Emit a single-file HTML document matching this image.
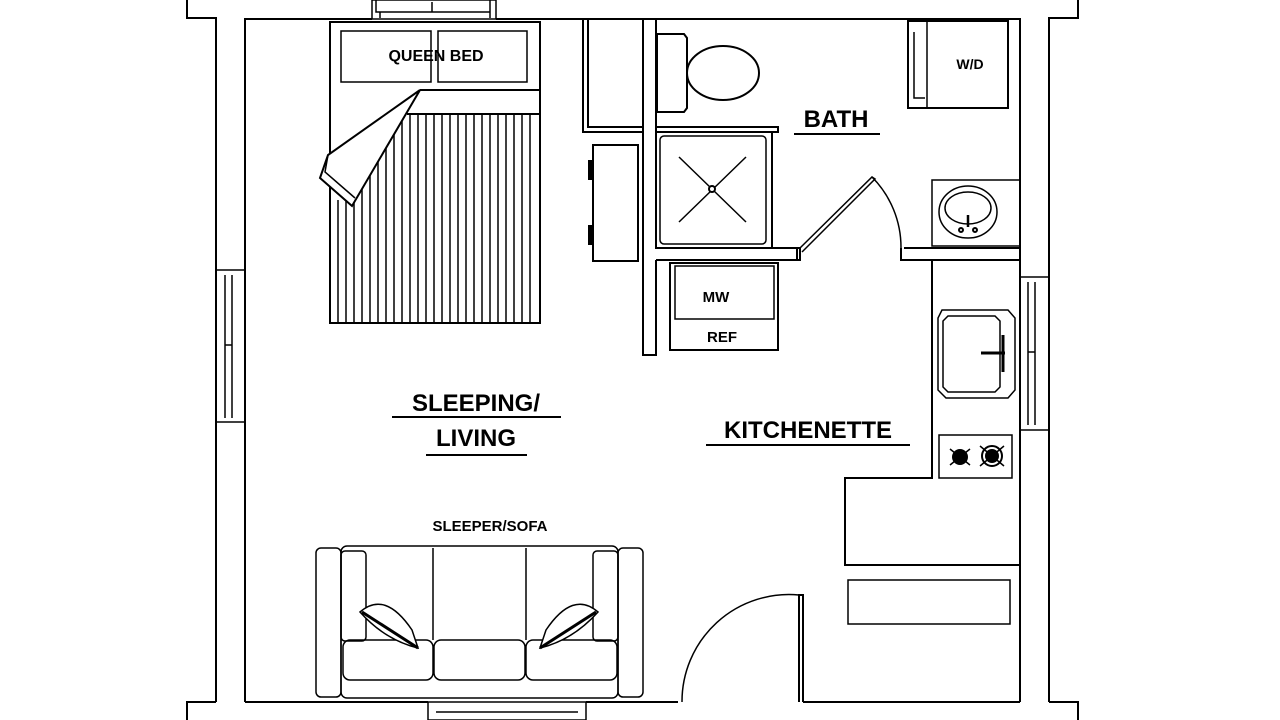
<!DOCTYPE html>
<html><head><meta charset="utf-8"><style>
html,body{margin:0;padding:0;background:#fff;}
svg{display:block}
text{font-family:"Liberation Sans",sans-serif;font-weight:bold;fill:#000}
</style></head><body>
<svg width="1280" height="720" viewBox="0 0 1280 720" xmlns="http://www.w3.org/2000/svg" fill="none" stroke="#000" stroke-width="2">
<!-- outer walls -->
<path d="M187 0V18H216V702"/>
<path d="M245 702V19H372M496 19H1020V702"/>
<path d="M1078 0V18H1049V702"/>
<!-- top window -->
<rect x="372" y="0" width="124" height="19" stroke-width="1.5"/>
<path d="M376 0V12H490V0M380 12v6M432 12v-10M490 12v6" stroke-width="1.5"/>
<!-- left window -->
<rect x="216" y="270" width="29" height="152" stroke-width="1.5"/>
<path d="M225 275V418M232 275V418M225 345h7" stroke-width="1.5"/>
<!-- right window -->
<rect x="1020" y="277" width="29" height="153" stroke-width="1.5"/>
<path d="M1028 282V425M1035 282V425M1028 352h7" stroke-width="1.5"/>
<!-- bottom walls -->
<path d="M187 720V702H216M245 702H428M586 702H678M803 702H1020M1049 702H1078V720"/>
<rect x="428" y="702" width="158" height="18" stroke-width="1.5"/>
<path d="M436 712H578" stroke-width="1.5"/>
<!-- entry door -->
<path d="M799 702V595H803V702"/>
<path d="M799 595 A107 107 0 0 0 682 702" stroke-width="1.5"/>
<!-- bed -->
<rect x="330" y="22" width="210" height="301"/>
<rect x="341" y="31" width="90" height="51" stroke-width="1.5"/>
<rect x="438" y="31" width="89" height="51" stroke-width="1.5"/>
<path d="M420 90H540M407 114H540"/>
<g stroke-width="1.5">
<path d="M338 200V323M346 190V323M354 200V323M362 180V323M370 170V323M378 155V323M386 140V323M394 125V323M402 114V323M410 114V323M418 114V323M426 114V323M434 114V323M442 114V323M450 114V323M458 114V323M466 114V323M474 114V323M482 114V323M490 114V323M498 114V323M506 114V323M514 114V323M522 114V323M530 114V323"/>
</g>
<path d="M420 90L328 155L320 178L352 206L420 90Z" fill="#fff"/>
<path d="M328 155L325 172L355 198M320 178L352 206" stroke-width="1.5"/>
<!-- closet / partitions -->
<path d="M583 19V132H643M588 19V127H643V19M643 19V355H656V260M656 132V19"/>
<rect x="593" y="145" width="45" height="116"/>
<path d="M590 160v20M590 225v20" stroke-width="4"/>
<!-- toilet -->
<path d="M657 34H684L687 38V108L684 112H657Z"/>
<ellipse cx="723" cy="73" rx="36" ry="27"/>
<!-- shower -->
<path d="M656 127H778V132H656Z"/>
<rect x="656" y="132" width="116" height="116"/>
<rect x="660" y="136" width="106" height="108" rx="4" stroke-width="1.5"/>
<path d="M679 157L746 222M746 157L679 222" stroke-width="1.5"/>
<circle cx="712" cy="189" r="3" fill="#fff"/>
<!-- bath wall and door -->
<path d="M656 248H800V260H656M797 248V260"/>
<path d="M800 248L872 177L875 179L802 252" stroke-width="1.5"/>
<path d="M872 177A100 100 0 0 1 901 248" stroke-width="1.5"/>
<path d="M901 248V260H1020M904 248H1020"/>
<!-- W/D -->
<rect x="908" y="21" width="100" height="87"/>
<path d="M927 21V108M914 32V98H925" stroke-width="1.5"/>
<!-- vanity -->
<rect x="932" y="180" width="88" height="66" stroke-width="1.5"/>
<ellipse cx="968" cy="212" rx="29" ry="26" stroke-width="1.5"/>
<ellipse cx="968" cy="208" rx="23" ry="16" stroke-width="1.5"/>
<path d="M968 215v12M968 213v0" stroke-width="2.5"/>
<circle cx="961" cy="230" r="2"/><circle cx="975" cy="230" r="2"/>
<!-- MW/REF -->
<rect x="670" y="263" width="108" height="87"/>
<rect x="675" y="266" width="99" height="53" stroke-width="1.5"/>
<!-- kitchen counter -->
<path d="M932 260V478H845V565H1020"/>
<path d="M942 310H1008L1015 318V390L1008 398H946L938 390V318Z" stroke-width="1.5"/>
<path d="M948 316H995L1000 321V387L995 392H948L943 387V321Z" stroke-width="1.5"/>
<path d="M981 353H1005M1003 335V372" stroke-width="3"/>
<rect x="939" y="435" width="73" height="43" stroke-width="1.5"/>
<circle cx="960" cy="457" r="7" fill="#000"/>
<circle cx="992" cy="456" r="10"/><circle cx="992" cy="456" r="6" fill="#000"/>
<path d="M950 449l20 16M970 449l-20 16M980 446l24 20M1004 446l-24 20" stroke-width="1.5"/>
<rect x="848" y="580" width="162" height="44" stroke-width="1.5"/>
<!-- sofa -->
<rect x="316" y="548" width="25" height="149" rx="5" stroke-width="1.5"/>
<rect x="618" y="548" width="25" height="149" rx="5" stroke-width="1.5"/>
<rect x="341" y="546" width="277" height="152" rx="6" stroke-width="1.5"/>
<path d="M433 548V640M526 548V640" stroke-width="1.5"/>
<rect x="341" y="551" width="25" height="90" rx="4" stroke-width="1.5"/>
<rect x="593" y="551" width="25" height="90" rx="4" stroke-width="1.5"/>
<rect x="343" y="640" width="90" height="40" rx="7" stroke-width="1.5"/>
<rect x="434" y="640" width="91" height="40" rx="7" stroke-width="1.5"/>
<rect x="526" y="640" width="91" height="40" rx="7" stroke-width="1.5"/>
<path d="M360 612Q385 590 412 630L418 648Q385 640 360 612Z" fill="#fff" stroke-width="1.5"/>
<path d="M362 612L418 648" stroke-width="3"/>
<path d="M598 612Q573 590 546 630L540 648Q573 640 598 612Z" fill="#fff" stroke-width="1.5"/>
<path d="M596 612L540 648" stroke-width="3"/>
<!-- labels -->
<g stroke="none">
<text x="436" y="61" font-size="16" text-anchor="middle">QUEEN BED</text>
<text x="836" y="127" font-size="24" text-anchor="middle">BATH</text>
<text x="970" y="69" font-size="14" text-anchor="middle">W/D</text>
<text x="716" y="302" font-size="15" text-anchor="middle">MW</text>
<text x="722" y="342" font-size="15" text-anchor="middle">REF</text>
<text x="476" y="411" font-size="24" text-anchor="middle">SLEEPING/</text>
<text x="476" y="446" font-size="24" text-anchor="middle">LIVING</text>
<text x="808" y="438" font-size="24" text-anchor="middle">KITCHENETTE</text>
<text x="490" y="531" font-size="15" text-anchor="middle">SLEEPER/SOFA</text>
</g>
<path d="M794 134H880M392 417H561M426 455H527M706 445H910" stroke-width="2"/>
</svg>
</body></html>
